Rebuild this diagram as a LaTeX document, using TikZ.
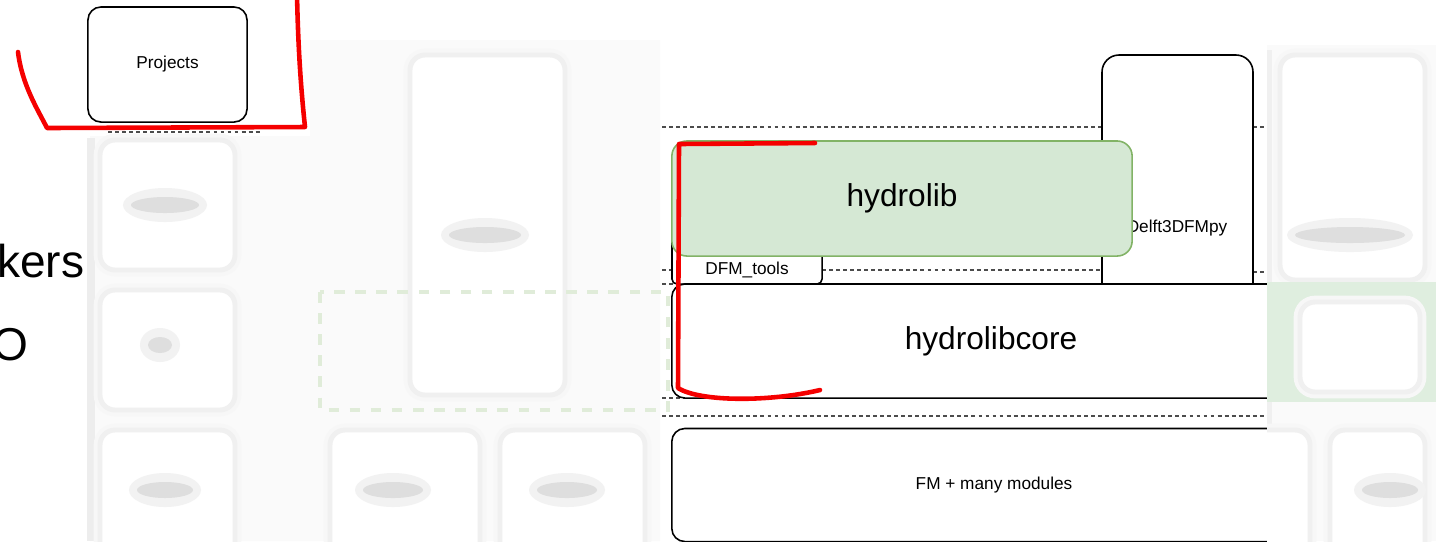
\documentclass[tikz,border=0pt]{standalone}
\usepackage{fontspec}
\setmainfont{Liberation Sans}
\usetikzlibrary{positioning}
\definecolor{libfill}{HTML}{D5E8D4}
\definecolor{libdraw}{HTML}{82B366}
\definecolor{penred}{HTML}{F50000}

\begin{document}
\begin{tikzpicture}[x=0.01cm, y=-0.01cm,
	box/.style={draw, rounded corners=0.13cm, fill=white, inner sep=0pt, line width=0.45pt},
	small/.style={font=\fontsize{4.9pt}{6pt}\selectfont},
	big/.style={font=\fontsize{9pt}{11pt}\selectfont},
	sep/.style={dash pattern=on 1.1pt off 0.9pt, line width=0.4pt, black!70},
	blurbox/.style={draw=black!6, line width=1.4pt, rounded corners=0.15cm, fill=white, preaction={draw=black!3, line width=3.6pt}},
	pen/.style={penred, line width=1.3pt, line cap=round, line join=round}]
	\useasboundingbox (0,0) rectangle (1440,541);
	\clip (0,0) rectangle (1440,541);

	% Texte coupe a gauche
	\node[anchor=base east, inner sep=0pt, font=\fontsize{13.1pt}{15pt}\selectfont] (kers) at (85,277) {kers};
	\node[anchor=base east, inner sep=0pt, font=\fontsize{13.1pt}{15pt}\selectfont] (o) at (29,360) {O};

	% Zone floue gauche
	\fill[black!2] (90,136) -- (310,136) -- (310,40) -- (660,40) -- (660,541) -- (90,541) -- cycle;
	\draw[black!7, line width=2.4pt] (91,138) -- (91,541);
	\draw[blurbox] (100,140) rectangle (235,270);
	\draw[blurbox] (410,55) rectangle (565,395);
	\draw[blurbox] (100,290) rectangle (235,410);
	\draw[blurbox] (100,430) rectangle (235,560);
	\draw[blurbox] (330,430) rectangle (480,560);
	\draw[blurbox] (500,430) rectangle (645,560);
	\draw[libdraw!25, dash pattern=on 3pt off 3pt, line width=1.2pt] (320,292) rectangle (668,410);

	% Couches
	\node[box, minimum width=1.59cm, minimum height=1.15cm, small] (projects) at (167.5,64.5) {Projects};
	\draw[sep] (108,132) -- (262,132);

	\draw[sep] (662,127) -- (1102,127);
	\draw[sep] (1253,127) -- (1267,127);
	\draw[sep] (662,270) -- (672,270);
	\draw[sep] (822,270) -- (1102,270);
	\draw[sep] (1253,272) -- (1267,272);
	\draw[sep] (662,284) -- (1267,284);
	\draw[sep] (662,398) -- (1267,398);
	\draw[sep] (662,416) -- (1267,416);

	\draw[line width=0.45pt, rounded corners=0.17cm] (1102,284) -- (1102,55) -- (1253,55) -- (1253,284);
	\node[small] (delft) at (1177,228) {Delft3DFMpy};
	\node[box, rounded corners=0.05cm, minimum width=1.5cm, minimum height=0.86cm] (dfmbox) at (747,241) {};
	\node[small] (dfmtools) at (747,270) {DFM\_tools};
	\node[box, draw=libdraw, fill=libfill, rounded corners=0.15cm, minimum width=4.6cm, minimum height=1.15cm, big] (hydrolib) at (902,198.5) {hydrolib};
	\node[box, minimum width=6.38cm, minimum height=1.14cm, big] (core) at (991,341) {hydrolibcore};
	\node[box, minimum width=6.44cm, minimum height=1.13cm, small] (fm) at (994,485) {FM + many modules};

	% Zone floue droite, par-dessus les couches
	\begin{scope}
		\clip (1267,0) rectangle (1436,541);
		\fill[black!2] (1267,45) rectangle (1436,541);
		\draw[black!6, line width=2.4pt] (1268,50) -- (1268,541);
		\draw[blurbox] (1280,55) rectangle (1425,280);
		\fill[libfill!75] (1267,282) rectangle (1436,402);
		\draw[blurbox] (1300,302) rectangle (1420,392);
		\draw[blurbox] (1230,430) rectangle (1310,560);
		\draw[blurbox] (1330,430) rectangle (1425,560);
	\end{scope}

	% Taches de texte floues
	\foreach \bx/\by/\bw in {165/205/34, 485/235/36, 160/345/12, 165/490/28, 393/490/30, 567/490/30, 1350/235/55, 1390/490/28}{
		\fill[black!5] (\bx,\by) ellipse [x radius=\bw*0.01cm+0.08cm, y radius=0.17cm];
		\fill[black!13] (\bx,\by) ellipse [x radius=\bw*0.01cm, y radius=0.08cm];
	}

	% Annotations au stylo
	\draw[pen] (18,52) .. controls (22,85) and (38,110) .. (47,128) -- (305,127) .. controls (300,80) and (298,40) .. (297,-5);
	\draw[pen] (815,143) -- (679,144) -- (678,388) .. controls (700,402) and (770,402) .. (820,390);
\end{tikzpicture}
\end{document}
